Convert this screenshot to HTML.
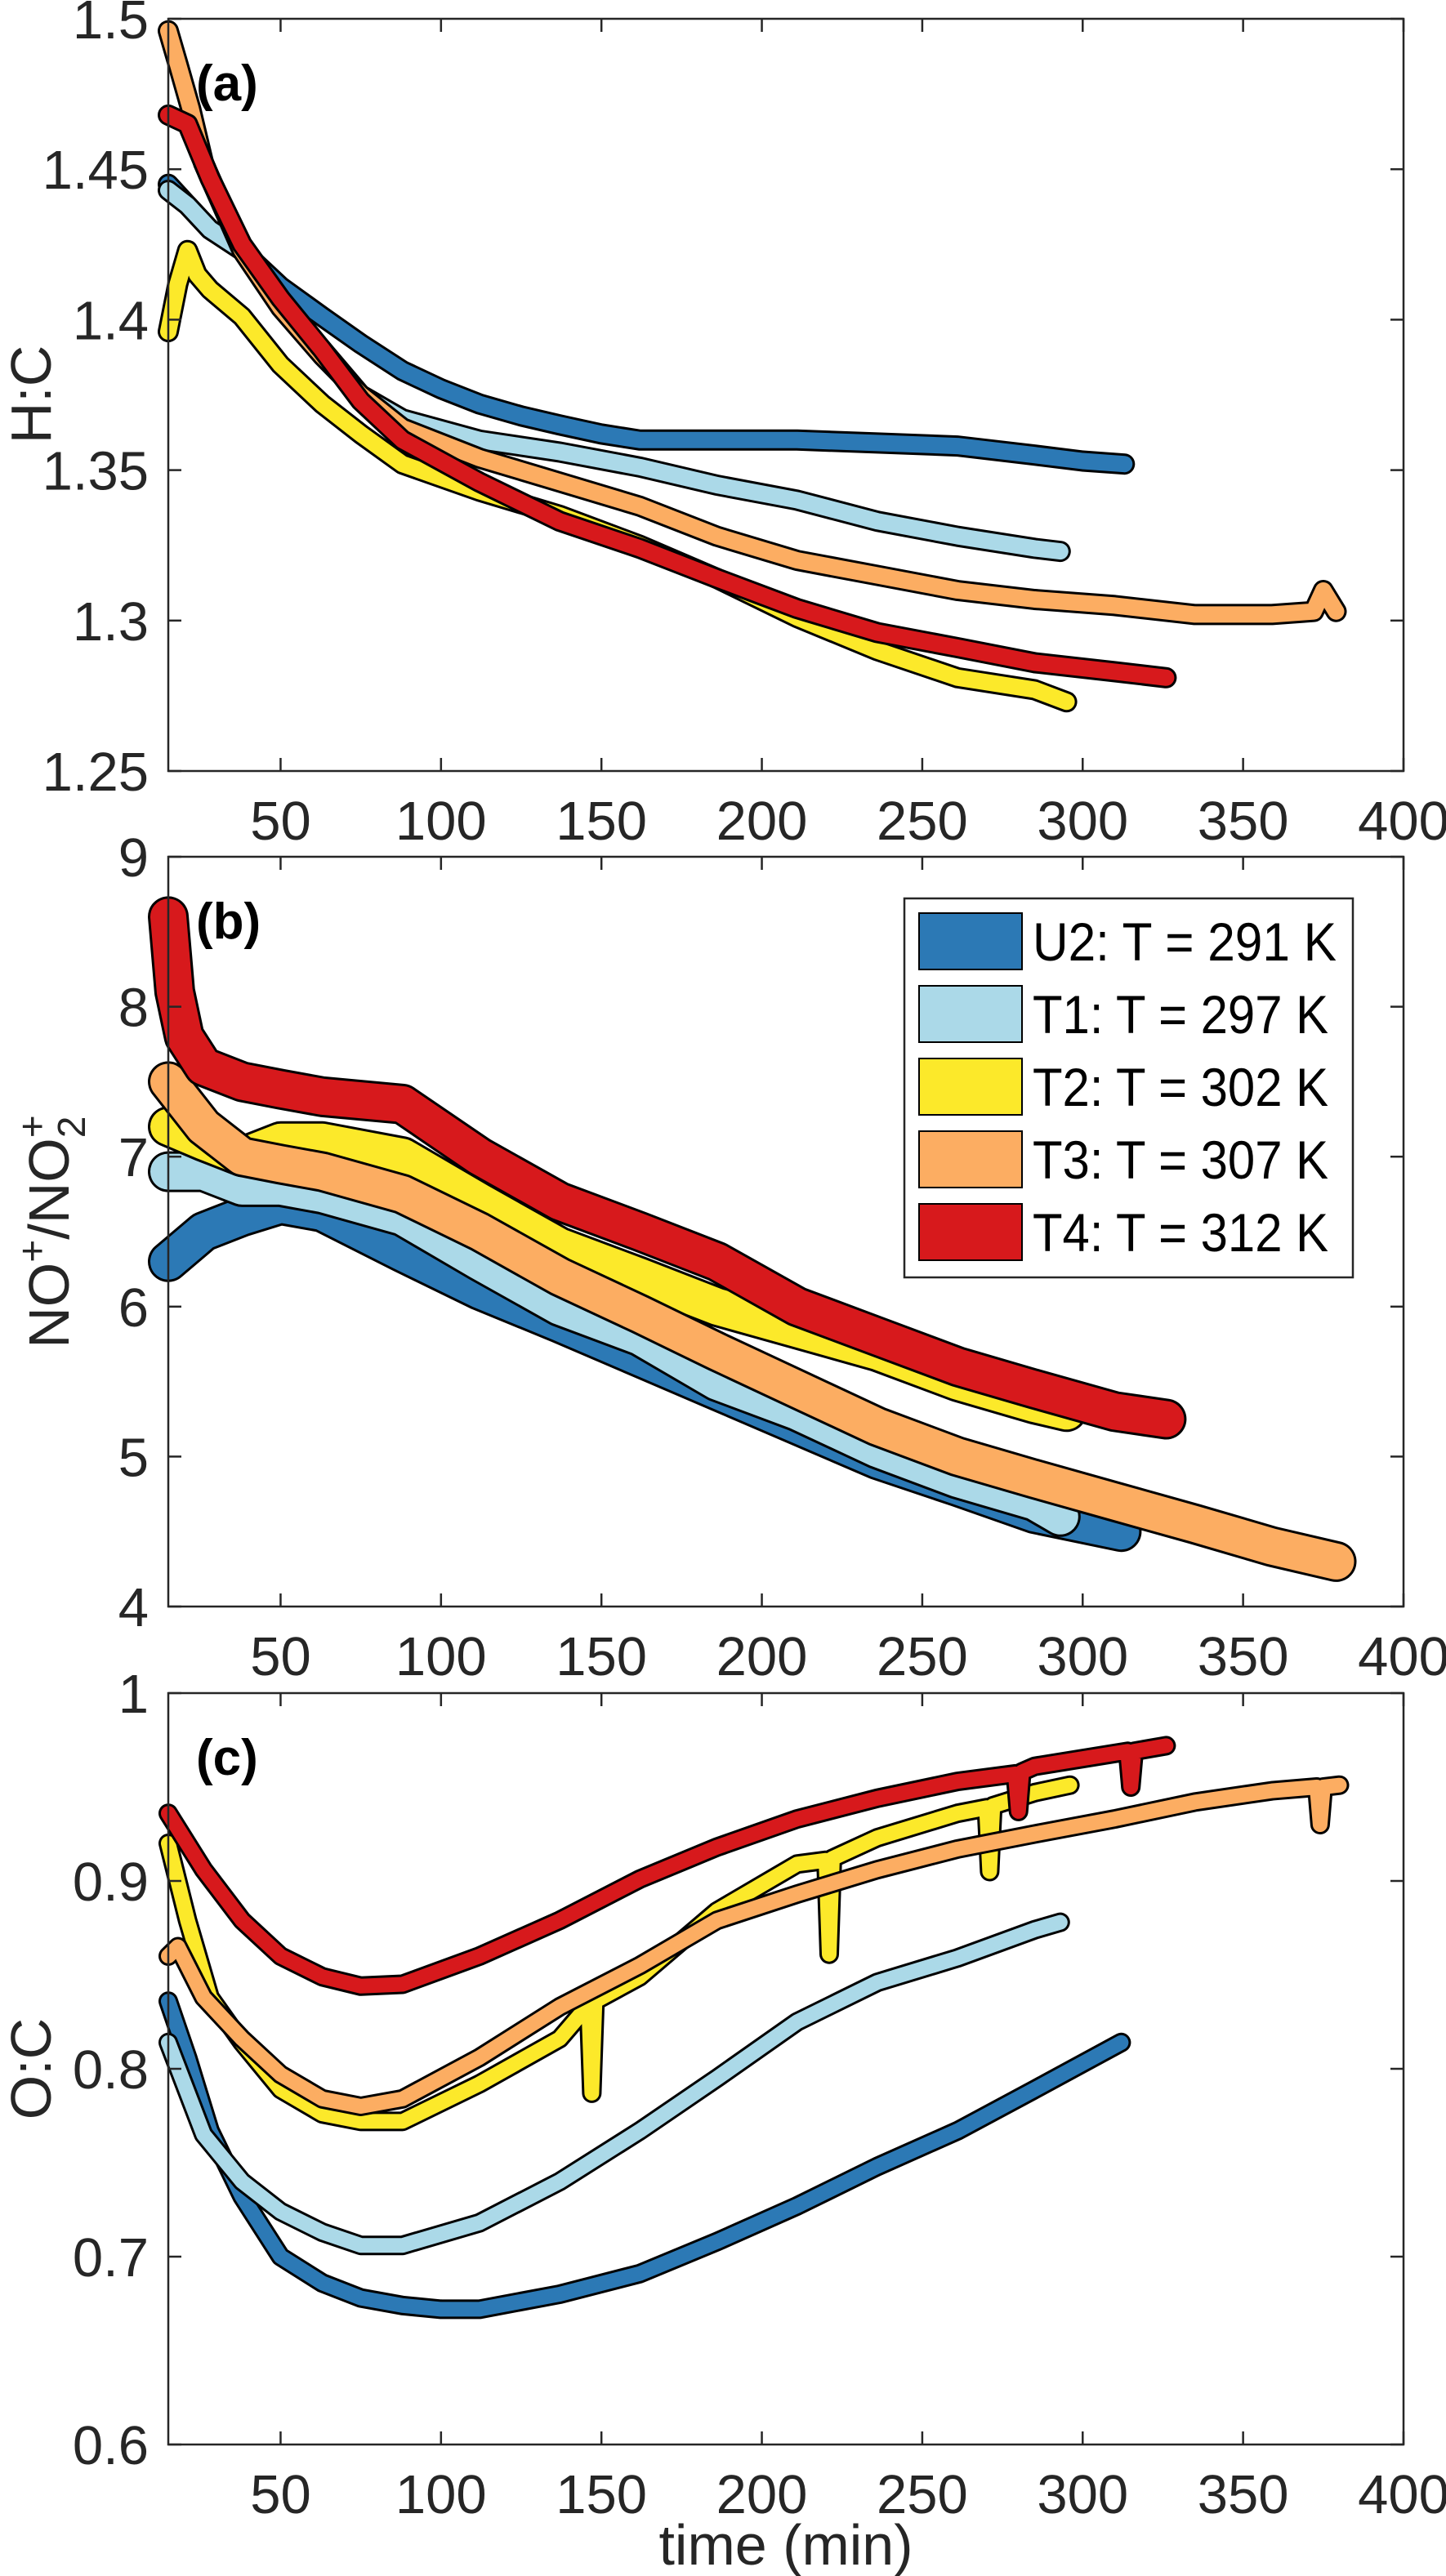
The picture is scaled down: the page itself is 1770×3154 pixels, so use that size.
<!DOCTYPE html>
<html><head><meta charset="utf-8"><style>
html,body{margin:0;padding:0;background:#fff;}
svg{display:block;font-family:"Liberation Sans",Arial,sans-serif;}
</style></head><body>
<svg id="fig" width="1770" height="3154" viewBox="0 0 1770 3154" xmlns="http://www.w3.org/2000/svg"></svg>
<script>
// ---- data ----
const seriesNames = ["U2: T = 291 K","T1: T = 297 K","T2: T = 302 K","T3: T = 307 K","T4: T = 312 K"];
const seriesColors = ["#2c79b5","#abd9e8","#fce92a","#fcad62","#d7191c"];
const xTicks = [50,100,150,200,250,300,350,400];

// panel a: H:C
const hcT_U2 = [15,21,28,38,50,63,75,88,100,112,125,137,150,162,186,211,236,261,285,300,313];
const hcV_U2 = [1.445,1.438,1.43,1.423,1.411,1.401,1.392,1.383,1.377,1.372,1.368,1.365,1.362,1.36,1.36,1.36,1.359,1.358,1.355,1.353,1.352];
const hcT_T1 = [15,21,28,38,50,63,75,88,112,137,162,186,211,236,261,285,293];
const hcV_T1 = [1.443,1.438,1.43,1.423,1.405,1.39,1.375,1.367,1.36,1.356,1.351,1.345,1.34,1.333,1.328,1.324,1.323];
const hcT_T2 = [15,18,21,24,28,38,50,63,75,88,112,137,162,186,211,236,261,285,295];
const hcV_T2 = [1.396,1.412,1.423,1.415,1.41,1.401,1.385,1.372,1.362,1.352,1.343,1.335,1.325,1.314,1.301,1.29,1.281,1.277,1.273];
const hcT_T3 = [15,18,22,26,38,50,63,75,88,112,137,162,186,211,236,261,285,310,335,359,372,375,379];
const hcV_T3 = [1.496,1.485,1.47,1.452,1.423,1.404,1.388,1.375,1.364,1.354,1.346,1.338,1.328,1.32,1.315,1.31,1.307,1.305,1.302,1.302,1.303,1.31,1.303];
const hcT_T4 = [15,21,28,38,50,63,75,88,112,137,162,186,211,236,261,285,310,326];
const hcV_T4 = [1.468,1.465,1.447,1.425,1.407,1.39,1.373,1.36,1.346,1.333,1.324,1.314,1.304,1.296,1.291,1.286,1.283,1.281];

// panel b: NO+/NO2+
const noT_U2 = [15,26,38,50,63,88,112,137,162,186,211,236,261,285,312];
const noV_U2 = [6.3,6.5,6.6,6.68,6.63,6.36,6.11,5.89,5.66,5.44,5.21,4.98,4.8,4.62,4.5];
const noT_T1 = [15,26,38,50,63,88,112,137,162,186,211,236,261,285,293];
const noV_T1 = [6.9,6.9,6.8,6.8,6.75,6.6,6.3,6.0,5.8,5.5,5.3,5.05,4.85,4.7,4.6];
const noT_T2 = [15,26,38,50,63,88,112,137,162,186,211,236,261,285,295];
const noV_T2 = [7.2,7.1,7.0,7.1,7.1,7.0,6.7,6.4,6.2,6.0,5.85,5.7,5.5,5.35,5.3];
const noT_T3 = [15,26,38,50,63,88,112,137,162,186,211,236,261,285,310,335,359,379];
const noV_T3 = [7.5,7.2,7.0,6.95,6.9,6.75,6.5,6.2,5.95,5.7,5.45,5.2,5.0,4.85,4.7,4.55,4.4,4.3];
const noT_T4 = [15,17,20,26,38,50,63,88,112,137,162,186,211,236,261,285,310,326];
const noV_T4 = [8.6,8.1,7.8,7.6,7.5,7.45,7.4,7.35,7.0,6.7,6.5,6.3,6.0,5.8,5.6,5.45,5.3,5.25];

// panel c: O:C
const ocT_U2 = [15,21,28,38,50,63,75,88,100,112,137,162,186,211,236,261,285,312];
const ocV_U2 = [0.836,0.806,0.767,0.732,0.7,0.686,0.678,0.674,0.672,0.672,0.68,0.691,0.708,0.727,0.748,0.767,0.789,0.814];
const ocT_T1 = [15,26,38,50,63,75,88,112,137,162,186,211,236,261,285,293];
const ocV_T1 = [0.814,0.765,0.74,0.724,0.713,0.706,0.706,0.718,0.74,0.767,0.795,0.825,0.846,0.859,0.874,0.878];
const ocT_T2 = [15,21,28,38,50,63,75,88,112,137,146,147,148,162,186,211,220,221,222,236,261,270,271,272,285,296];
const ocV_T2 = [0.92,0.879,0.838,0.814,0.789,0.776,0.772,0.772,0.792,0.816,0.834,0.787,0.836,0.849,0.884,0.909,0.911,0.861,0.912,0.923,0.936,0.939,0.905,0.94,0.947,0.951];
const ocT_T3 = [15,18,26,38,50,63,75,88,112,137,162,186,211,236,261,285,310,335,359,373,374,375,380];
const ocV_T3 = [0.86,0.865,0.838,0.816,0.797,0.784,0.78,0.784,0.806,0.833,0.855,0.879,0.893,0.906,0.917,0.925,0.933,0.942,0.948,0.95,0.93,0.95,0.951];
const ocT_T4 = [15,26,38,50,63,75,88,112,137,162,186,211,236,261,279,280,281,285,314,315,316,326];
const ocV_T4 = [0.936,0.906,0.879,0.86,0.849,0.844,0.845,0.86,0.879,0.901,0.918,0.933,0.944,0.953,0.957,0.937,0.958,0.961,0.969,0.95,0.969,0.972];

const NS="http://www.w3.org/2000/svg";
const svg=document.getElementById('fig');
const X0=206,X1=1718,TMIN=15,TMAX=400;
function xs(t){return X0+(t-TMIN)/(TMAX-TMIN)*(X1-X0);}
function mk(tag,attrs,parent){const e=document.createElementNS(NS,tag);for(const k in attrs)e.setAttribute(k,attrs[k]);(parent||svg).appendChild(e);return e;}

function panel(cfg){
  const g=mk('g',{});
  
  
  const ys=v=>cfg.top+(cfg.vmax-v)/(cfg.vmax-cfg.vmin)*(cfg.bottom-cfg.top);
  for(let i=0;i<cfg.T.length;i++){
    const pts=cfg.T[i].map((t,j)=>xs(t).toFixed(1)+','+ys(cfg.V[i][j]).toFixed(1)).join(' ');
    const o=mk('polyline',{points:pts,fill:'none',stroke:'#000','stroke-width':cfg.w+6,'stroke-linejoin':'round','stroke-linecap':'round'},g);
    
    
    const l=mk('polyline',{points:pts,fill:'none',stroke:seriesColors[i],'stroke-width':cfg.w,'stroke-linejoin':'round','stroke-linecap':'round'},g);
    
    
  }
  const b=mk('rect',{x:X0,y:cfg.top,width:X1-X0,height:cfg.bottom-cfg.top,fill:'none',stroke:'#262626','stroke-width':2.5},g);
  
  
  xTicks.forEach(t=>{
    const x=xs(t);
    mk('line',{x1:x,x2:x,y1:cfg.bottom,y2:cfg.bottom-16,stroke:'#262626','stroke-width':2.5},g);
    mk('line',{x1:x,x2:x,y1:cfg.top,y2:cfg.top+16,stroke:'#262626','stroke-width':2.5},g);
    const tx=mk('text',{x:x,y:cfg.bottom+84,'font-size':67,'text-anchor':'middle',fill:'#262626'},g);
    tx.textContent=String(t);
    
    
  });
  cfg.yTicks.forEach((v,k)=>{
    const y=ys(v);
    mk('line',{x1:X0,x2:X0+16,y1:y,y2:y,stroke:'#262626','stroke-width':2.5},g);
    mk('line',{x1:X1,x2:X1-16,y1:y,y2:y,stroke:'#262626','stroke-width':2.5},g);
    const ty=mk('text',{x:182,y:y+24,'font-size':67,'text-anchor':'end',fill:'#262626'},g);
    ty.textContent=cfg.yLabels[k];
    
    
  });
  const pl=mk('text',{x:240,y:cfg.top+100,'font-size':62,'font-weight':'bold',fill:'#000'},g);
  pl.textContent=cfg.label;
  
  
  return ys;
}

panel({name:'panel-a-hc',top:23,bottom:944,vmin:1.25,vmax:1.5,w:20,label:'(a)',
  ids:['u2','t1','t2','t3','t4'],
  T:[hcT_U2,hcT_T1,hcT_T2,hcT_T3,hcT_T4],V:[hcV_U2,hcV_T1,hcV_T2,hcV_T3,hcV_T4],
  yTicks:[1.25,1.3,1.35,1.4,1.45,1.5],yLabels:['1.25','1.3','1.35','1.4','1.45','1.5']});
panel({name:'panel-b-no-ratio',top:1049,bottom:1967,vmin:4,vmax:9,w:44,label:'(b)',
  ids:['u2','t1','t2','t3','t4'],
  T:[noT_U2,noT_T1,noT_T2,noT_T3,noT_T4],V:[noV_U2,noV_T1,noV_T2,noV_T3,noV_T4],
  yTicks:[4,5,6,7,8,9],yLabels:['4','5','6','7','8','9']});
panel({name:'panel-c-oc',top:2073,bottom:2993,vmin:0.6,vmax:1,w:18,label:'(c)',
  ids:['u2','t1','t2','t3','t4'],
  T:[ocT_U2,ocT_T1,ocT_T2,ocT_T3,ocT_T4],V:[ocV_U2,ocV_T1,ocV_T2,ocV_T3,ocV_T4],
  yTicks:[0.6,0.7,0.8,0.9,1],yLabels:['0.6','0.7','0.8','0.9','1']});

// legend
const lg=mk('g',{});


const lr=mk('rect',{x:1107,y:1100,width:549,height:464,fill:'#fff',stroke:'#262626','stroke-width':2.5},lg);
seriesNames.forEach((n,i)=>{
  const y=1118+i*89;
  const sw=mk('rect',{x:1125,y:y,width:126,height:69,fill:seriesColors[i],stroke:'#000','stroke-width':2},lg);
  
  
  const tx=mk('text',{x:1264,y:y+58,'font-size':66,fill:'#000',textLength:i==0?372:362,lengthAdjust:'spacingAndGlyphs'},lg);
  tx.textContent=n;
  
  
});
</script>
<script>
(function(){
const NS="http://www.w3.org/2000/svg";const svg=document.getElementById('fig');
function t(attrs,html,name){const e=document.createElementNS(NS,'text');for(const k in attrs)e.setAttribute(k,attrs[k]);e.innerHTML=html;


svg.appendChild(e);}
t({x:0,y:0,'font-size':70,fill:'#262626','text-anchor':'middle',transform:'translate(62,483) rotate(-90)'},'H:C','y-axis-title-hc');
t({x:0,y:0,'font-size':70,fill:'#262626','text-anchor':'middle',transform:'translate(84,1508) rotate(-90)'},'NO<tspan dy="-28" font-size="48">+</tspan><tspan dy="28">/NO</tspan><tspan dy="-28" font-size="48">+</tspan><tspan dx="-28" dy="48" font-size="48">2</tspan>','y-axis-title-no');
t({x:0,y:0,'font-size':70,fill:'#262626','text-anchor':'middle',transform:'translate(62,2533) rotate(-90)'},'O:C','y-axis-title-oc');
t({x:962,y:3140,'font-size':70,fill:'#262626','text-anchor':'middle'},'time (min)','x-axis-title');
})();
</script>
</body></html>
